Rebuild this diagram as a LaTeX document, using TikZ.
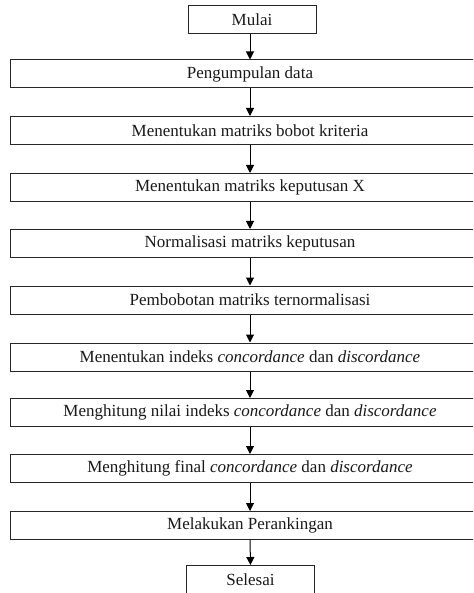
\documentclass[tikz,border=0pt]{standalone}
\usepackage{fontspec}
\setmainfont{Liberation Serif}
\usetikzlibrary{arrows.meta}
\begin{document}
\begin{tikzpicture}[x=1pt,y=-1pt,
  stepbox/.style={draw=black!85,line width=1pt,minimum width=480pt,minimum height=28pt,inner sep=0pt,font=\fontsize{17}{20}\selectfont,text=black!90},
  termbox/.style={draw=black!85,line width=1pt,minimum width=128pt,minimum height=28pt,inner sep=0pt,font=\fontsize{17}{20}\selectfont,text=black!90},
  flow/.style={draw=black,line width=1pt,-{Triangle[width=8pt,length=8pt]}}]
\clip (0,0) rectangle (473,593);
\useasboundingbox (0,0) rectangle (473,593);
\node[termbox] (s0) at (252,20) {Mulai};
\node[stepbox] (s1) at (250,74) {Pengumpulan data};
\node[stepbox] (s2) at (250,130.5) {Menentukan matriks bobot kriteria};
\node[stepbox] (s3) at (250,187.5) {Menentukan matriks keputusan X};
\node[stepbox] (s4) at (250,243.5) {Normalisasi matriks keputusan};
\node[stepbox] (s5) at (250,300) {Pembobotan matriks ternormalisasi};
\node[stepbox] (s6) at (250,357) {Menentukan indeks \textit{concordance} dan \textit{discordance}};
\node[stepbox] (s7) at (250,412.5) {Menghitung nilai indeks \textit{concordance} dan \textit{discordance}};
\node[stepbox] (s8) at (250,468.5) {Menghitung final \textit{concordance} dan \textit{discordance}};
\node[stepbox] (s9) at (250,525.5) {Melakukan Perankingan};
\node[termbox] (s10) at (250.5,579.5) {Selesai};
\draw[flow] (s0.south -| s1.north) -- (s1.north);
\foreach \a/\b in {s1/s2,s2/s3,s3/s4,s4/s5,s5/s6,s6/s7,s7/s8,s8/s9}
  \draw[flow] (\a) -- (\b);
\draw[flow] (s9.south) -- (s10.north);
\end{tikzpicture}
\end{document}
